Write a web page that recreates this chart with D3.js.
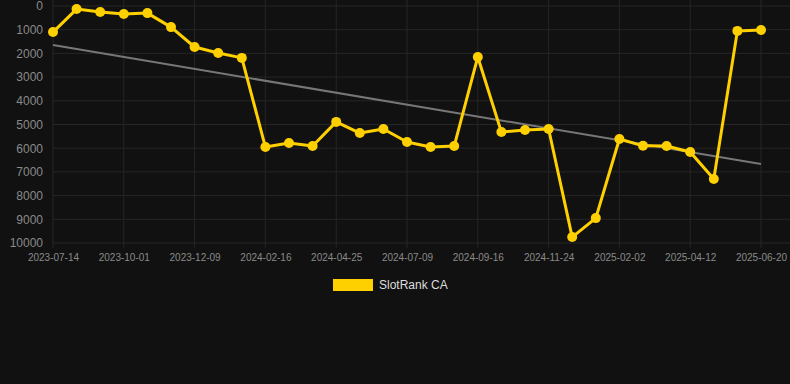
<!DOCTYPE html>
<html lang="en">
<head>
<meta charset="UTF-8">
<title>SlotRank CA</title>
<style>
  html,body{margin:0;padding:0;background:#111111;}
  svg{display:block;font-family:Arial,"Liberation Sans",sans-serif;}
</style>
</head>
<body>
<svg id="chart" width="790" height="384"></svg>
<script src="https://cdn.jsdelivr.net/npm/d3@7/dist/d3.min.js"></script>
<script>
var dates=["2023-07-14","2023-08-10","2023-09-05","2023-10-01","2023-10-24","2023-11-16","2023-12-09","2024-01-01","2024-01-24","2024-02-16","2024-03-10","2024-04-02","2024-04-25","2024-05-20","2024-06-14","2024-07-09","2024-08-01","2024-08-24","2024-09-16","2024-10-09","2024-11-01","2024-11-24","2024-12-17","2025-01-09","2025-02-02","2025-02-25","2025-03-20","2025-04-12","2025-05-05","2025-05-28","2025-06-20"]
var ranks=[1100,130,250,340,300,890,1730,1980,2190,5950,5780,5910,4890,5360,5190,5740,5950,5910,2150,5320,5230,5190,9750,8950,5610,5900,5910,6160,7300,1050,1010]
var trend=[1650,6670]
var yTicks=[0,1000,2000,3000,4000,5000,6000,7000,8000,9000,10000]
var seriesName="SlotRank CA"

var width=790,height=384,margin={top:6,right:29,bottom:141,left:53}
var svg=d3.select('#chart')

var x=d3.scalePoint().domain(dates).range([margin.left,width-margin.right])
var y=d3.scaleLinear().domain([0,10000]).range([margin.top,height-margin.bottom])

// grid
svg.append('g').selectAll('line').data(yTicks).join('line')
  .attr('x1',margin.left).attr('x2',width).attr('y1',d=>y(d)).attr('y2',d=>y(d))
  .attr('stroke','#262626').attr('stroke-width',1)
var xTicks=dates.filter((d,i)=>i%3==0)
svg.append('g').selectAll('line').data(xTicks).join('line')
  .attr('x1',d=>x(d)).attr('x2',d=>x(d)).attr('y1',0).attr('y2',y(10000)+5)
  .attr('stroke','#262626').attr('stroke-width',1)

// axes
var yAxis=g=>g.attr('transform',`translate(${margin.left-10},0)`)
  .call(d3.axisLeft(y).tickValues(yTicks).tickSize(0).tickFormat(d=>d))
  .call(g=>g.select('.domain').remove())
  .call(g=>g.selectAll('text').attr('fill','#8a8a8a').attr('font-size','12px').attr('x',0))
var xAxis=g=>g.attr('transform',`translate(0,${y(10000)+11})`)
  .call(d3.axisBottom(x).tickValues(xTicks).tickSize(0))
  .call(g=>g.select('.domain').remove())
  .call(g=>g.selectAll('text').attr('fill','#8a8a8a').attr('font-size','10px').attr('dy','0.71em').attr('y',0))
svg.append('g').call(yAxis).attr('font-family',null)
svg.append('g').call(xAxis).attr('font-family',null)

// trend line
svg.append('line')
  .attr('x1',x(dates[0])).attr('y1',y(trend[0]))
  .attr('x2',x(dates[dates.length-1])).attr('y2',y(trend[1]))
  .attr('stroke','#777777').attr('stroke-width',2)

// series
var data=dates.map((d,i)=>({date:d,value:ranks[i]}))
var line=d3.line().x(d=>x(d.date)).y(d=>y(d.value))
svg.append('path').datum(data).attr('fill','none').attr('stroke','#FFD000')
  .attr('stroke-width',3).attr('stroke-linejoin','round').attr('d',line)
svg.append('g').selectAll('circle').data(data).join('circle')
  .attr('cx',d=>x(d.date)).attr('cy',d=>y(d.value)).attr('r',5).attr('fill','#FFD000')

// legend
var lg=svg.append('g').attr('transform','translate(333,279)')
lg.append('rect').attr('width',40).attr('height',12).attr('fill','#FFD000')
lg.append('text').attr('x',46).attr('y',10).attr('fill','#dddddd').attr('font-size','12px').text(seriesName)
</script>
</body>
</html>
